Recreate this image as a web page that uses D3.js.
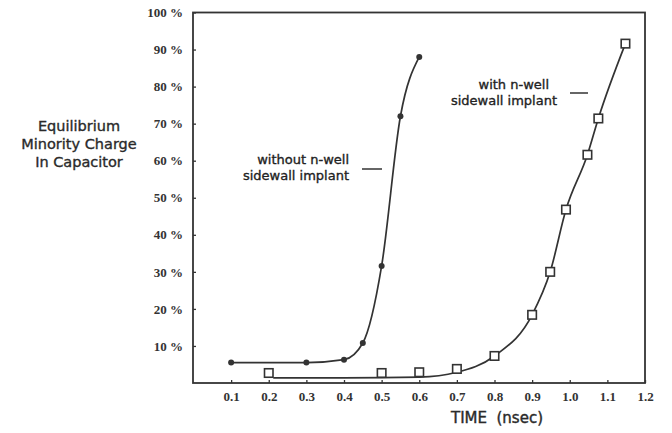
<!DOCTYPE html>
<html>
<head>
<meta charset="utf-8">
<script src="https://cdn.jsdelivr.net/npm/d3@7"></script>
<style>
  body { margin: 0; background: #fff; }
  svg { display: block; }
</style>
</head>
<body>
<div id="chart"></div>
<script>
// without n-well sidewall implant (dots)
const timeWithout = [0.1, 0.3, 0.4, 0.45, 0.5, 0.55, 0.6];
const chargeWithout = [5.5, 5.5, 6.3, 10.8, 31.6, 72, 88];

// with n-well sidewall implant (squares)
const timeWith = [0.2, 0.5, 0.6, 0.7, 0.8, 0.9, 0.948, 0.99, 1.047, 1.076, 1.148];
const chargeWith = [2.7, 2.7, 2.9, 3.8, 7.3, 18.4, 30, 46.8, 61.6, 71.4, 91.6];

// fitted curve drawn under the squares
const fitTime = [0.212, 0.4, 0.6, 0.7, 0.8, 0.9, 0.948, 0.99, 1.047, 1.076, 1.148];
const fitCharge = [1.4, 1.4, 1.6, 2.9, 7.3, 18.4, 30, 46.8, 61.6, 71.4, 91.6];

const xTicks = [0.1, 0.2, 0.3, 0.4, 0.5, 0.6, 0.7, 0.8, 0.9, 1.0, 1.1, 1.2];
const yTicks = [10, 20, 30, 40, 50, 60, 70, 80, 90, 100];

const W = 672, H = 433;
const plot = {left: 193, right: 645, top: 12.5, bottom: 383};

const svg = d3.select("#chart").append("svg")
    .attr("width", W)
    .attr("height", H);

const x = d3.scaleLinear().domain([0, 1.2]).range([plot.left + 0.5, plot.right]);
const y = d3.scaleLinear().domain([0, 100]).range([plot.bottom, plot.top]);

const ink = "#333";

// frame
svg.append("rect")
    .attr("x", plot.left)
    .attr("y", plot.top)
    .attr("width", plot.right - plot.left)
    .attr("height", plot.bottom - plot.top)
    .attr("fill", "none")
    .attr("stroke", ink)
    .attr("stroke-width", 1.8);

const xAxis = svg.append("g")
    .attr("transform", `translate(0, ${plot.bottom})`)
    .call(d3.axisBottom(x).tickValues(xTicks).tickSize(-3).tickPadding(9)
        .tickFormat(d3.format(".1f")));

const yAxis = svg.append("g")
    .attr("transform", `translate(${plot.left}, 0)`)
    .call(d3.axisLeft(y).tickValues(yTicks).tickSize(-3).tickPadding(10)
        .tickFormat(d => d + " %"));

[xAxis, yAxis].forEach(function (g) {
    g.select(".domain").remove();
    g.selectAll(".tick line").attr("stroke", ink).attr("stroke-width", 1.3);
    g.selectAll(".tick text")
        .attr("fill", ink)
        .style("font-family", "'Liberation Serif', serif")
        .style("font-weight", "bold")
        .style("font-size", "13px");
});

const line = d3.line()
    .x(d => x(d[0]))
    .y(d => y(d[1]))
    .curve(d3.curveMonotoneX);

svg.append("path")
    .datum(timeWithout.map((t, i) => [t, chargeWithout[i]]))
    .attr("d", line)
    .attr("fill", "none")
    .attr("stroke", ink)
    .attr("stroke-width", 1.7);

svg.append("path")
    .datum(fitTime.map((t, i) => [t, fitCharge[i]]))
    .attr("d", line)
    .attr("fill", "none")
    .attr("stroke", ink)
    .attr("stroke-width", 1.7);

svg.append("g")
    .selectAll("circle")
    .data(timeWithout.map((t, i) => [t, chargeWithout[i]]))
    .enter()
    .append("circle")
    .attr("cx", d => x(d[0]))
    .attr("cy", d => y(d[1]))
    .attr("r", 3)
    .attr("fill", ink);

const sq = 8.5;
svg.append("g")
    .selectAll("rect")
    .data(timeWith.map((t, i) => [t, chargeWith[i]]))
    .enter()
    .append("rect")
    .attr("x", d => x(d[0]) - sq / 2)
    .attr("y", d => y(d[1]) - sq / 2)
    .attr("width", sq)
    .attr("height", sq)
    .attr("fill", "#fff")
    .attr("stroke", ink)
    .attr("stroke-width", 1.6);

// y title
const yTitle = ["Equilibrium", "Minority Charge", "In Capacitor"];
svg.append("g")
    .selectAll("text")
    .data(yTitle)
    .enter()
    .append("text")
    .attr("x", 79)
    .attr("y", (d, i) => 131 + i * 18)
    .attr("text-anchor", "middle")
    .attr("fill", "#2a2a2a")
    .attr("stroke", "#2a2a2a")
    .attr("stroke-width", 0.35)
    .style("font-family", "'DejaVu Sans', sans-serif")
    .style("font-size", "14.5px")
    .text(d => d);

// x title
svg.append("text")
    .attr("x", 497)
    .attr("y", 423)
    .attr("text-anchor", "middle")
    .attr("fill", "#2a2a2a")
    .attr("stroke", "#2a2a2a")
    .attr("stroke-width", 0.4)
    .style("font-family", "'DejaVu Sans', sans-serif")
    .style("font-size", "15px")
    .style("white-space", "pre")
    .text("TIME  (nsec)");

// annotations
const notes = [
    {lines: ["without n-well", "sidewall implant"], x: 349, y: 164, arrow: [362, 382, 169]},
    {lines: ["with n-well", "sidewall implant"], x: 557, y: 89, arrow: [570, 588, 93]}
];

notes.forEach(function (n) {
    const g = svg.append("g");
    g.selectAll("text")
        .data(n.lines)
        .enter()
        .append("text")
        .attr("x", (d, i) => i === 0 ? n.x - (n.x > 400 ? 8 : 0) : n.x)
        .attr("y", (d, i) => n.y + i * 15.5)
        .attr("text-anchor", "end")
        .attr("fill", "#222")
        .attr("stroke", "#222")
        .attr("stroke-width", 0.35)
        .style("font-family", "'DejaVu Sans', sans-serif")
        .style("font-size", "13px")
        .text(d => d);
    g.append("line")
        .attr("x1", n.arrow[0])
        .attr("x2", n.arrow[1])
        .attr("y1", n.arrow[2])
        .attr("y2", n.arrow[2])
        .attr("stroke", ink)
        .attr("stroke-width", 1.5);
});
</script>
</body>
</html>
